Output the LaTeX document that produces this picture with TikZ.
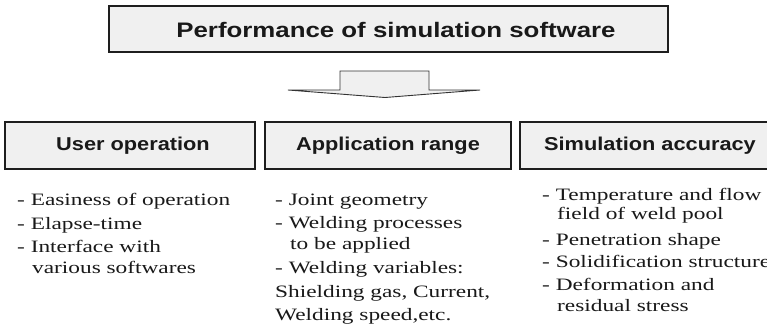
\documentclass[tikz,border=0pt]{standalone}
\usepackage{fontspec}
\newfontfamily\bodyfont[FakeStretch=1.34]{Liberation Serif}
\newfontfamily\headfont[FakeStretch=1.17]{Liberation Sans}
\newfontfamily\titlefont[FakeStretch=1.23]{Liberation Sans}
\definecolor{boxfill}{HTML}{F0F0F0}
\definecolor{edge}{HTML}{1E1E1E}
\tikzset{
  hbox/.style={draw=edge, line width=2.2pt, fill=boxfill},
  headtxt/.style={inner sep=0pt, font=\headfont\bfseries\fontsize{18.6}{20}\selectfont, text=black!90},
  titletxt/.style={inner sep=0pt, font=\titlefont\bfseries\fontsize{21}{24}\selectfont, text=black!90},
  body/.style={inner sep=0pt, anchor=base west, font=\bodyfont\fontsize{17.4}{20}\selectfont, text=black!90},
  arrowshape/.style={draw=black!80, line width=0.9pt, fill=boxfill, line join=miter}
}
\begin{document}
\begin{tikzpicture}[x=1pt,y=-1pt]
\path[use as bounding box, clip] (0,0) rectangle (767,333);
\fill[white] (0,0) rectangle (767,333);
% title
\draw[hbox] (109,6) rectangle (668,52);
\node[titletxt] (title) at (396,29.5) {Performance of simulation software};
% arrow
\draw[arrowshape] (340,90) -- (340,71) -- (429,71) -- (429,90) -- (480,90) -- (385,97.5) -- (288,90) -- cycle;
% header boxes
\draw[hbox] (5,122) rectangle (255,169);
\draw[hbox] (265,122) rectangle (511,169);
\draw[hbox] (520,122) rectangle (782,169);
\node[headtxt] (h1) at (133,145.5) {User operation};
\node[headtxt] (h2) at (388,145.5) {Application range};
\node[headtxt] (h3) at (650,145.5) {Simulation accuracy};
% column 1
\node[body] (a1) at (17,205) {- Easiness of operation};
\node[body] (a2) at (17,229) {- Elapse-time};
\node[body] (a3) at (17,252) {- Interface with};
\node[body] (a4) at (32,273) {various softwares};
% column 2
\node[body] (b1) at (275,205) {- Joint geometry};
\node[body] (b2) at (275,228) {- Welding processes};
\node[body] (b3) at (290,249) {to be applied};
\node[body] (b4) at (275,273) {- Welding variables:};
\node[body] (b5) at (275,297) {Shielding gas, Current,};
\node[body] (b6) at (275,320) {Welding speed,etc.};
% column 3
\node[body] (c1) at (542,200) {- Temperature and flow};
\node[body] (c2) at (557,219) {field of weld pool};
\node[body] (c3) at (542,245) {- Penetration shape};
\node[body] (c4) at (542,267) {- Solidification structure};
\node[body] (c5) at (542,290) {- Deformation and};
\node[body] (c6) at (557,311) {residual stress};
\end{tikzpicture}
\end{document}
